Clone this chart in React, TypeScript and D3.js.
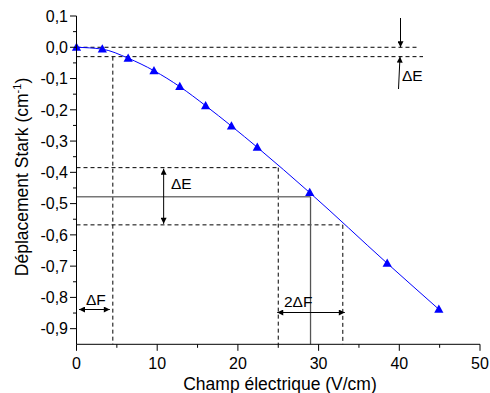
import React from "react";
import * as d3 from "d3";

const fieldValues = [0, 3.2, 6.4, 9.6, 12.8, 16.0, 19.2, 22.4, 28.9, 38.5, 44.9];
const shiftValues = [0, -0.006, -0.035, -0.075, -0.126, -0.187, -0.252, -0.32, -0.465, -0.691, -0.838];
const xTicks = [0, 10, 20, 30, 40, 50];
const xMinorTicks = [5, 15, 25, 35, 45];
const yTicks = [0.1, 0.0, -0.1, -0.2, -0.3, -0.4, -0.5, -0.6, -0.7, -0.8, -0.9];
const yMinorTicks = [0.05, -0.05, -0.15, -0.25, -0.35, -0.45, -0.55, -0.65, -0.75, -0.85];

// annotation values
const dE1Levels = [0, -0.03];
const dF1Field = 4.5;
const refField = 29;
const refShift = -0.478;
const lowField = 25;
const lowShift = -0.385;
const highField = 33;
const highShift = -0.568;

const W = 490;
const H = 393;
const FONT = "'Liberation Sans', Arial, sans-serif";

export default function App() {
  const x = d3.scaleLinear().domain([0, 50]).range([76.5, 480]);
  const y = d3.scaleLinear().domain([-0.95, 0.1]).range([344.3, 16]);
  const fmt = (v: number) => d3.format(".1f")(v).replace(".", ",").replace("−", "-");
  const pts = fieldValues.map((f, i) => [f, shiftValues[i]] as [number, number]);
  const line = d3
    .line<[number, number]>()
    .x((d) => x(d[0]))
    .y((d) => y(d[1]))
    .curve(d3.curveMonotoneX);

  const tri = (cx: number, cy: number) => {
    const s = 4.6;
    return `M${cx},${cy - s * 1.05} L${cx + s},${cy + s * 0.75} L${cx - s},${cy + s * 0.75} Z`;
  };

  const dash = "4,3";
  const x0 = x(0);
  const yBottom = y(-0.95);

  return (
    <svg width={W} height={H} style={{ position: "absolute", left: 0, top: 0 }} fontFamily={FONT}>
      <defs>
        <marker id="ah" viewBox="0 0 10 10" refX="10" refY="5" markerWidth="10" markerHeight="6" markerUnits="userSpaceOnUse" orient="auto">
          <path d="M0,0 L10,5 L0,10 Z" fill="#000" />
        </marker>
        <marker id="ahs" viewBox="0 0 10 10" refX="0" refY="5" markerWidth="10" markerHeight="6" markerUnits="userSpaceOnUse" orient="auto">
          <path d="M10,0 L0,5 L10,10 Z" fill="#000" />
        </marker>
      </defs>
      <rect x={0} y={0} width={W} height={H} fill="#fff" />

      {/* top dashed levels */}
      <line x1={x0} x2={417} y1={y(dE1Levels[0])} y2={y(dE1Levels[0])} stroke="#000" strokeDasharray={dash} strokeWidth={1} />
      <line x1={x0} x2={423} y1={y(dE1Levels[1])} y2={y(dE1Levels[1])} stroke="#000" strokeDasharray={dash} strokeWidth={1} />
      <line x1={x(dF1Field)} x2={x(dF1Field)} y1={y(dE1Levels[1])} y2={yBottom} stroke="#000" strokeDasharray={dash} strokeWidth={1} />

      {/* low and high dashed */}
      <line x1={x0} x2={x(lowField)} y1={y(lowShift)} y2={y(lowShift)} stroke="#000" strokeDasharray={dash} strokeWidth={1} />
      <line x1={x(lowField)} x2={x(lowField)} y1={y(lowShift)} y2={yBottom} stroke="#000" strokeDasharray={dash} strokeWidth={1} />
      <line x1={x0} x2={x(highField)} y1={y(highShift)} y2={y(highShift)} stroke="#000" strokeDasharray={dash} strokeWidth={1} />
      <line x1={x(highField)} x2={x(highField)} y1={y(highShift)} y2={yBottom} stroke="#000" strokeDasharray={dash} strokeWidth={1} />

      {/* reference solid lines */}
      <line x1={x0} x2={x(refField)} y1={y(refShift)} y2={y(refShift)} stroke="#777" strokeWidth={1.6} />
      <line x1={x(refField)} x2={x(refField)} y1={y(refShift)} y2={yBottom} stroke="#555" strokeWidth={1.3} />

      {/* data line */}
      <path d={line(pts) ?? ""} fill="none" stroke="#0000ff" strokeWidth={1} />
      {pts.map((p, i) => (
        <path key={i} d={tri(x(p[0]), y(p[1]))} fill="#0000ff" />
      ))}

      {/* top right ΔE arrows */}
      <line x1={400.5} x2={400.5} y1={18} y2={y(dE1Levels[0])} stroke="#000" strokeWidth={1} markerEnd="url(#ah)" />
      <line x1={398.5} x2={400} y1={89} y2={y(dE1Levels[1])} stroke="#000" strokeWidth={1} markerEnd="url(#ah)" />
      <text x={402} y={81} fontSize={15.5} fill="#000">ΔE</text>

      {/* middle ΔE double arrow */}
      <line x1={x(10.8)} x2={x(10.8)} y1={y(lowShift) + 1} y2={y(highShift) - 1} stroke="#000" strokeWidth={1} markerEnd="url(#ah)" markerStart="url(#ahs)" />
      <text x={171} y={189} fontSize={15.5} fill="#000">ΔE</text>

      {/* ΔF double arrow */}
      <line x1={79} x2={x(dF1Field) - 3} y1={309.5} y2={309.5} stroke="#000" strokeWidth={1} markerEnd="url(#ah)" markerStart="url(#ahs)" />
      <text x={86} y={304.5} fontSize={15.5} fill="#000">ΔF</text>

      {/* 2ΔF double arrow */}
      <line x1={x(lowField) - 1} x2={x(highField) + 2} y1={312.5} y2={312.5} stroke="#000" strokeWidth={1} markerEnd="url(#ah)" markerStart="url(#ahs)" />
      <text x={284} y={306.5} fontSize={15.5} fill="#000">2ΔF</text>

      {/* axes */}
      <line x1={x0} x2={x0} y1={y(0.1)} y2={yBottom} stroke="#000" strokeWidth={1} />
      <line x1={x0} x2={x(50)} y1={yBottom} y2={yBottom} stroke="#000" strokeWidth={1} />
      {yTicks.map((t) => (
        <g key={"yt" + t}>
          <line x1={x0 - 6.5} x2={x0} y1={y(t)} y2={y(t)} stroke="#000" strokeWidth={1} />
          <text x={x0 - 8.5} y={y(t)} dy="0.36em" textAnchor="end" fontSize={16} fill="#000">{fmt(t)}</text>
        </g>
      ))}
      {yMinorTicks.map((t) => (
        <line key={"ym" + t} x1={x0 - 3.5} x2={x0} y1={y(t)} y2={y(t)} stroke="#000" strokeWidth={1} />
      ))}
      {xTicks.map((t) => (
        <g key={"xt" + t}>
          <line x1={x(t)} x2={x(t)} y1={yBottom} y2={yBottom + 6.5} stroke="#000" strokeWidth={1} />
          <text x={x(t)} y={368.5} textAnchor="middle" fontSize={16} fill="#000">{t}</text>
        </g>
      ))}
      {xMinorTicks.map((t) => (
        <line key={"xm" + t} x1={x(t)} x2={x(t)} y1={yBottom} y2={yBottom + 3.5} stroke="#000" strokeWidth={1} />
      ))}

      {/* axis titles */}
      <text x={280} y={390} textAnchor="middle" fontSize={17.5} fill="#000">Champ électrique (V/cm)</text>
      <text transform="translate(28,177) rotate(-90)" textAnchor="middle" fontSize={17.5} fill="#000">
        Déplacement Stark (cm
        <tspan fontSize={11} dy={-7}>-1</tspan>
        <tspan dy={7}>)</tspan>
      </text>
    </svg>
  );
}
